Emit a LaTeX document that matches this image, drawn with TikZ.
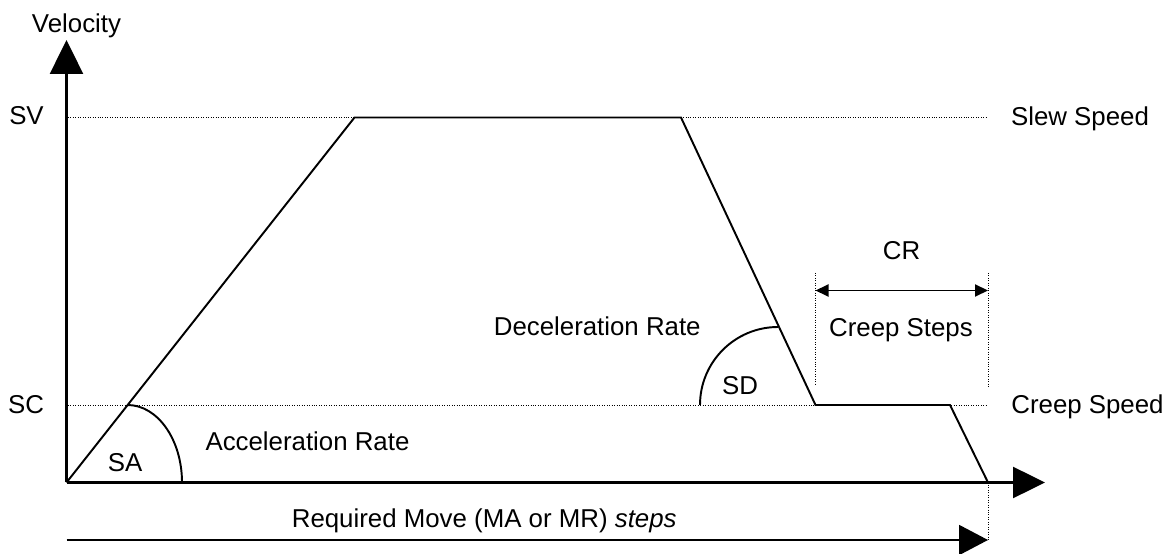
\documentclass[tikz,border=0pt]{standalone}
\usepackage{fontspec}
\setmainfont{Liberation Sans}
\usetikzlibrary{arrows.meta}

\tikzset{
  axis/.style={draw,line width=1.4pt},
  profile/.style={draw,line width=1.1pt,line join=miter},
  guide/.style={draw,densely dotted,line width=0.4pt},
  lbl/.style={anchor=base,inner sep=0pt,font=\fontsize{14.7}{17}\selectfont},
}

\begin{document}
\begin{tikzpicture}
                \useasboundingbox (0,0) rectangle (23.48,11.06);

                \coordinate (o) at (1.33,1.41);
                \coordinate (ytop) at (1.33,10.26);
                \coordinate (xend) at (20.9,1.41);

                \coordinate (p1) at (7.09,8.71);
                \coordinate (p2) at (13.62,8.71);
                \coordinate (p3) at (16.31,2.96);
                \coordinate (p4) at (19.0,2.96);
                \coordinate (p5) at (19.76,1.41);

                \coordinate (sv1) at (1.36,8.71);
                \coordinate (sv2) at (19.72,8.71);
                \coordinate (sc1) at (1.36,2.96);
                \coordinate (sc2) at (19.72,2.96);

                \coordinate (cl1) at (16.31,5.6);
                \coordinate (cl2) at (16.31,3.34);
                \coordinate (cr1) at (19.76,5.6);
                \coordinate (cr2) at (19.76,3.32);
                \coordinate (mv1) at (1.33,0.26);
                \coordinate (mv2) at (19.76,0.26);

                \coordinate (sa) at (2.55,2.96);
                \coordinate (sd) at (14.0,2.96);

                % labels
                \node[lbl] (vel) at (1.53,10.40) {Velocity};
                \node[lbl] (sv) at (0.53,8.56) {SV};
                \node[lbl] (sc) at (0.52,2.79) {SC};
                \node[lbl] (slew) at (21.6,8.54) {Slew Speed};
                \node[lbl] (creep) at (21.75,2.79) {Creep Speed};
                \node[lbl] (acc) at (6.15,2.05) {Acceleration Rate};
                \node[lbl,anchor=base west] (dec) at (9.87,4.34) {Deceleration Rate};
                \node[lbl] (salbl) at (2.5,1.62) {SA};
                \node[lbl] (sdlbl) at (14.8,3.17) {SD};
                \node[lbl] (crlbl) at (18.03,5.86) {CR};
                \node[lbl] (csteps) at (18.02,4.33) {Creep Steps};
                \node[lbl,anchor=base west] (move) at (5.83,0.51) {Required Move (MA or MR) \textit{steps}};

                % dotted guides
                \path[guide] (sv1) -- (sv2);
                \path[guide] (sc1) -- (sc2);
                \path[guide] (cl1) -- (cl2);
                \path[guide] (cr1) -- (cr2);
                \path[guide] (p5) -- (mv2);

                % axes
                \path[axis,-{Triangle[length=0.68cm,width=0.66cm]}] (o) -- (ytop);
                \path[axis,-{Triangle[length=0.64cm,width=0.62cm]}] (o) -- (xend);

                % velocity profile
                \path[profile] (o) -- (p1) -- (p2) -- (p3) -- (p4) -- (p5);
                \path[profile] (sa) arc[start angle=90,end angle=0,x radius=1.09,y radius=1.55];
                \path[profile] (sd) arc[start angle=180,end angle=90,radius=1.56];

                % creep steps and move
                \path[draw,line width=1.1pt,{Triangle[length=0.26cm,width=0.24cm]}-{Triangle[length=0.26cm,width=0.24cm]}] (16.31,5.25) coordinate (ca) -- (19.76,5.25) coordinate (cb);
                \path[draw,line width=1.1pt,-{Triangle[length=0.58cm,width=0.6cm]}] (mv1) -- (mv2);

\end{tikzpicture}
\end{document}
